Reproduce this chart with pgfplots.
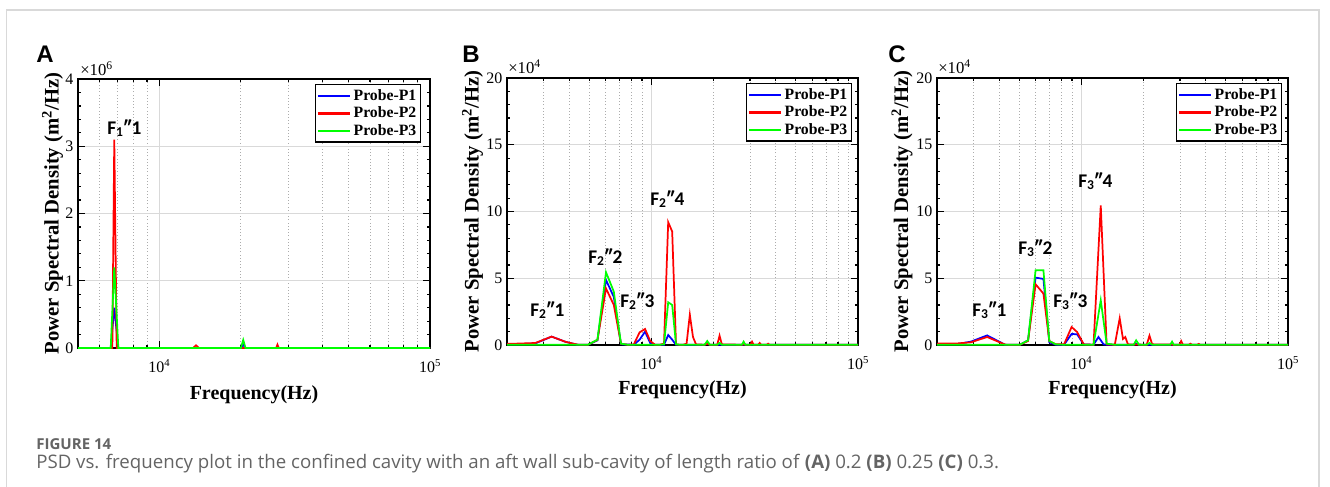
\documentclass[border=0pt]{standalone}
\usepackage{fontspec}
\setmainfont{Liberation Serif}
\newfontfamily\carlito{Carlito}
\newfontfamily\arialf{Liberation Sans}
\newfontfamily\opensans{Open Sans}
\usepackage{pgfplots}
\pgfplotsset{compat=1.18}

\definecolor{pblue}{RGB}{0,0,255}
\definecolor{pred}{RGB}{255,0,0}
\definecolor{pgreen}{RGB}{0,255,0}
\definecolor{capgray}{RGB}{100,100,100}

\pgfplotsset{
  every axis/.append style={
    scale only axis, anchor=south west,
    axis line style={line width=1.3pt},
    every tick/.style={black, line width=0.9pt},
    major tick length=5pt, minor tick length=2.6pt,
    minor y tick num=4,
    xmajorgrids, ymajorgrids, xminorgrids,
    major grid style={gray!30, line width=1pt},
    minor grid style={gray!65, dotted, line width=0.7pt},
    tick label style={font=\fontsize{12}{13}\selectfont},
    xticklabel style={yshift=-5pt},
    legend cell align=left,
    legend style={at={(1,1)}, anchor=north east, draw=black, line width=1.1pt,
      font=\bfseries\fontsize{11.8}{13}\selectfont,
      inner xsep=1pt, inner ysep=1.5pt, row sep=-0.5pt,
      /tikz/every even column/.append style={column sep=1pt}},
  },
  every axis y label/.style={rotate=90, anchor=center,
    font=\bfseries\fontsize{15.5}{17}\selectfont},
  every axis x label/.style={anchor=base,
    font=\bfseries\fontsize{15}{17}\selectfont},
  every axis plot/.append style={line width=1.3pt},
  legend image code/.code={%
    \draw[mark repeat=2, mark phase=2, #1, line width=1.6pt]
      plot coordinates {(0pt,0pt) (12pt,0pt) (24pt,0pt)};},
}

\begin{document}
\begin{tikzpicture}

% ---------- (A) ratio 0.2 ----------
\begin{axis}[
  xmode=log,
  at={(58.5pt,-261pt)}, width=264pt, height=201.75pt,
  xmin=5000, xmax=1e5, ymin=0, ymax=4,
  xtick={1e4,1e5}, xticklabels={10\textsuperscript{4},10\textsuperscript{5}},
  minor xtick={6000,7000,8000,9000,20000,30000,40000,50000,60000,70000,80000,90000},
  ytick={0,1,2,3,4}, yticklabels={0,1,2,3,4},
  xlabel={Frequency(Hz)},
  ylabel={Power Spectral Density (m\textsuperscript{2}/Hz)},
  xlabel style={at={(axis description cs:0.5,-0.1896)}},
  ylabel style={at={(axis description cs:-0.0724,0.5)}},
  legend style={xshift=-6.75pt, yshift=-3.75pt},
]
\addplot[pblue] coordinates {
  (4800,0) (6606,0) (6808,0.6) (7047,0) (20000,0) (20400,0.05) (20800,0) (102000,0)
};
\addlegendentry{Probe-P1}
\addplot[pred] coordinates {
  (4800,0) (6696,0) (6808,3.1) (6950,0) (13300,0) (13650,0.04) (14000,0)
  (27000,0) (27300,0.05) (27600,0) (102000,0)
};
\addlegendentry{Probe-P2}
\addplot[pgreen] coordinates {
  (4800,0) (6606,0) (6808,1.2) (7047,0) (20000,0) (20400,0.12) (20800,0) (102000,0)
};
\addlegendentry{Probe-P3}
\end{axis}

% ---------- (B) ratio 0.25 ----------
\begin{axis}[
  xmode=log,
  at={(380.25pt,-258.75pt)}, width=263.25pt, height=200.25pt,
  xmin=2000, xmax=1e5, ymin=0, ymax=20,
  xtick={1e4,1e5}, xticklabels={10\textsuperscript{4},10\textsuperscript{5}},
  minor xtick={3000,4000,5000,6000,7000,8000,9000,20000,30000,40000,50000,60000,70000,80000,90000},
  ytick={0,5,10,15,20}, yticklabels={0,5,10,15,20},
  xlabel={Frequency(Hz)},
  ylabel={Power Spectral Density (m\textsuperscript{2}/Hz)},
  xlabel style={at={(axis description cs:0.5,-0.1835)}},
  ylabel style={at={(axis description cs:-0.0983,0.5)}},
  legend style={xshift=-4.5pt, yshift=-3.75pt},
]
\addplot[pblue] coordinates {
  (1644,0.05) (2192,0.05) (2740,0.12) (3288,0.63) (3836,0.24) (4384,0.02) (4932,0.02)
  (5480,0.35) (6028,4.87) (6576,3.6) (7124,0.05) (8220,0.02) (8768,0.4) (9316,1.0)
  (9864,0.15) (10412,0.02) (11508,0.02) (12056,0.75) (12604,0.4) (13152,0.02)
  (18084,0.02) (18632,0.1) (19180,0.02) (102000,0.02)
};
\addlegendentry{Probe-P1}
\addplot[pred] coordinates {
  (1644,0.1) (2192,0.1) (2740,0.15) (3288,0.63) (3836,0.24) (4384,0.03) (4932,0.02)
  (5480,0.38) (6028,4.24) (6576,3.0) (7124,0.1) (7672,0.02) (8220,0.05) (8768,0.95)
  (9316,1.2) (9864,0.3) (10412,0.02) (10960,0.02) (11508,0.1) (12056,9.2) (12604,8.5)
  (13152,0.05) (13700,0.02) (14248,0.02) (14796,0.1) (15344,2.27) (15892,0.6)
  (16440,0.05) (18084,0.02) (18632,0.1) (19180,0.02) (20824,0.02) (21372,0.7)
  (21920,0.05) (27400,0.02) (27948,0.05) (28496,0.02) (30140,0.02) (30688,0.25)
  (31236,0.02) (32880,0.02) (33428,0.15) (33976,0.02) (36168,0.02) (36716,0.1)
  (37264,0.02) (102000,0.02)
};
\addlegendentry{Probe-P2}
\addplot[pgreen] coordinates {
  (1644,0.02) (4932,0.02) (5480,0.4) (6028,5.45) (6576,4.0) (7124,0.1) (7672,0.02)
  (10960,0.02) (11508,0.05) (12056,3.2) (12604,3.0) (13152,0.05) (13700,0.02)
  (18084,0.02) (18632,0.3) (19180,0.02) (20824,0.02) (21372,0.15) (21920,0.02)
  (27400,0.02) (27948,0.25) (28496,0.02) (102000,0.02)
};
\addlegendentry{Probe-P3}
\end{axis}

% ---------- (C) ratio 0.3 ----------
\begin{axis}[
  xmode=log,
  at={(702.75pt,-258.75pt)}, width=263.25pt, height=200.25pt,
  xmin=2000, xmax=1e5, ymin=0, ymax=20,
  xtick={1e4,1e5}, xticklabels={10\textsuperscript{4},10\textsuperscript{5}},
  minor xtick={3000,4000,5000,6000,7000,8000,9000,20000,30000,40000,50000,60000,70000,80000,90000},
  ytick={0,5,10,15,20}, yticklabels={0,5,10,15,20},
  xlabel={Frequency(Hz)},
  ylabel={Power Spectral Density (m\textsuperscript{2}/Hz)},
  xlabel style={at={(axis description cs:0.5,-0.1835)}},
  ylabel style={at={(axis description cs:-0.0997,0.5)}},
  legend style={xshift=-4.5pt, yshift=-3.75pt},
]
\addplot[pblue] coordinates {
  (1900,0.05) (2518,0.08) (2913,0.25) (3496,0.72) (4274,0.02) (5034,0.02) (5516,0.35)
  (5999,5.05) (6548,4.95) (6993,0.2) (7516,0.02) (8241,0.02) (8965,0.83) (9532,0.8)
  (10258,0.05) (11446,0.02) (12090,0.6) (12800,0.05) (13243,0.02) (17900,0.02)
  (18400,0.1) (19000,0.02) (102000,0.02)
};
\addlegendentry{Probe-P1}
\addplot[pred] coordinates {
  (1900,0.1) (2518,0.12) (2913,0.2) (3496,0.6) (4274,0.03) (5034,0.02) (5516,0.3)
  (5999,4.55) (6548,3.85) (6993,0.3) (7516,0.05) (8241,0.05) (8965,1.35) (9532,0.97)
  (10258,0.05) (11446,0.02) (12403,10.45) (13243,0.05) (14506,0.02) (15322,2.0)
  (15893,0.45) (16306,0.6) (16790,0.05) (20700,0.02) (21350,0.7) (22000,0.05)
  (29800,0.02) (30400,0.3) (31000,0.02) (33100,0.02) (33700,0.1) (34300,0.02)
  (36300,0.02) (36970,0.08) (37600,0.02) (102000,0.02)
};
\addlegendentry{Probe-P2}
\addplot[pgreen] coordinates {
  (1900,0.02) (5034,0.02) (5516,0.35) (5999,5.6) (6548,5.6) (6993,0.3) (7516,0.05)
  (8241,0.02) (11446,0.02) (12403,3.35) (13243,0.1) (14506,0.02) (17900,0.02)
  (18400,0.35) (19000,0.02) (20700,0.02) (21350,0.15) (22000,0.02) (26900,0.02)
  (27460,0.25) (28000,0.02) (102000,0.02)
};
\addlegendentry{Probe-P3}
\end{axis}

% ---------- frame, letters, multipliers, annotations, caption (pixel grid) ----------
\begin{scope}[x=0.75pt, y=-0.75pt]
  \path[use as bounding box] (0,0) rectangle (1330,486);
  \draw[gray!30, line width=1.2pt] (6.5,490) -- (6.5,10) -- (1319,10) -- (1319,490);

  \begin{scope}[every node/.style={anchor=base west, inner sep=0pt,
      font=\arialf\bfseries\fontsize{18}{20}\selectfont}]
    \node at (36,62) {A};
    \node at (462,62) {B};
    \node at (888,62) {C};
  \end{scope}

  \begin{scope}[every node/.style={anchor=base west, inner sep=0pt,
      font=\fontsize{12.5}{14}\selectfont}]
    \node at (80,75) {×10\textsuperscript{6}};
    \node at (508,73) {×10\textsuperscript{4}};
    \node at (938,73) {×10\textsuperscript{4}};
  \end{scope}

  \begin{scope}[every node/.style={anchor=base west, inner sep=0pt,
      font=\carlito\bfseries\fontsize{14.5}{16}\selectfont}]
    \node at (107,134) {F\textsubscript{1}″1};
    \node at (530,316) {F\textsubscript{2}″1};
    \node at (588,263) {F\textsubscript{2}″2};
    \node at (620,307) {F\textsubscript{2}″3};
    \node at (650,205) {F\textsubscript{2}″4};
    \node at (972,316) {F\textsubscript{3}″1};
    \node at (1018,254) {F\textsubscript{3}″2};
    \node at (1053,307) {F\textsubscript{3}″3};
    \node at (1078,187) {F\textsubscript{3}″4};
  \end{scope}

  \node[anchor=base west, inner sep=0pt, text=capgray,
    font=\opensans\bfseries\fontsize{11.3}{13}\selectfont] at (36,449) {FIGURE 14};
  \node[anchor=base west, inner sep=0pt, text=capgray,
    font=\opensans\fontsize{14}{16}\selectfont] at (36,468)
    {PSD vs. frequency plot in the confined cavity with an aft wall sub-cavity of length ratio of \textbf{(A)} 0.2 \textbf{(B)} 0.25 \textbf{(C)} 0.3.};
\end{scope}

\end{tikzpicture}
\end{document}
